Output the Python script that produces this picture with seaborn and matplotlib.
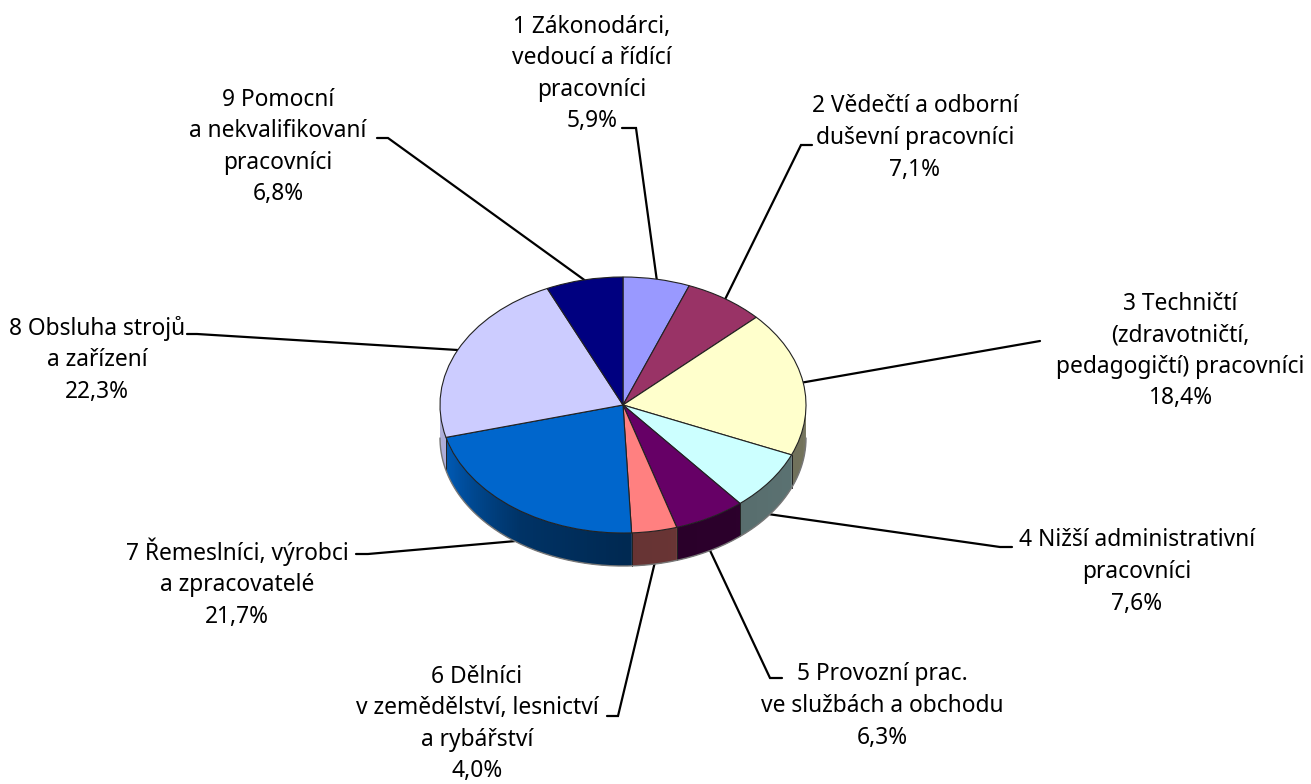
import numpy as np
import matplotlib
matplotlib.use("Agg")
import matplotlib.pyplot as plt
import seaborn as sns

labels = [
    "1 Zákonodárci,\nvedoucí a řídící\npracovníci\n5,9%",
    "2 Vědečtí a odborní\nduševní pracovníci\n7,1%",
    "3 Techničtí\n(zdravotničtí,\npedagogičtí) pracovníci\n18,4%",
    "4 Nižší administrativní\npracovníci\n7,6%",
    "5 Provozní prac.\nve službách a obchodu\n6,3%",
    "6 Dělníci\nv zemědělství, lesnictví\na rybářství\n4,0%",
    "7 Řemeslníci, výrobci\na zpracovatelé\n21,7%",
    "8 Obsluha strojů\na zařízení\n22,3%",
    "9 Pomocní\na nekvalifikovaní\npracovníci\n6,8%",
]
values = [5.9, 7.1, 18.4, 7.6, 6.3, 4.0, 21.7, 22.3, 6.8]
colors = ["#9999FF", "#993366", "#FFFFCC", "#CCFFFF", "#660066",
          "#FF8080", "#0066CC", "#CCCCFF", "#000080"]

# layout in pixels
W, H = 1311, 784
CX, CY, RX, RY, DEPTH = 623, 405, 183, 128, 33
label_pos = [(592, 74), (915, 138), (1180, 351), (1137, 572), (882, 706),
             (477, 724), (237, 583), (97, 360), (278, 147)]
leader_start = [(622, 128), (812, 145), (1040, 341), (1012, 547), (782, 678),
                (607, 716), (356, 554), (187, 334), (377, 138)]
leader_elbow = [(636, 128), (801, 145), (1040, 341), (1000, 547), (770, 678),
                (618, 716), (368, 554), (197, 334), (388, 138)]

sns.set_theme(style="white")
plt.rcParams["font.family"] = ["Noto Sans", "DejaVu Sans"]

fig = plt.figure(figsize=(W / 100, H / 100), dpi=100, facecolor="white")
ax = fig.add_axes([0, 0, 1, 1])
k = RY / RX
Y = lambda py: (H - py) / k


def shade(cw_deg):
    """Brightness of the rim, by position around the pie (clockwise from top)."""
    return np.interp(cw_deg, [90, 125, 180, 215, 250, 270],
                     [0.45, 0.44, 0.40, 0.50, 0.85, 0.85])


edges = np.concatenate([[0], np.cumsum(values)]) / np.sum(values) * 360
for i, col in enumerate(colors):
    a0, a1 = max(edges[i], 90), min(edges[i + 1], 270)
    if a1 <= a0:
        continue
    grid = np.arange(a0, a1 + 1.0, 1.0)
    grid[-1] = a1
    rgb = np.array(matplotlib.colors.to_rgb(col))
    for u, v in zip(grid[:-1], grid[1:]):
        ang = np.radians(np.linspace(max(u - 1.0, a0), v, 4))
        xs = CX + RX * np.sin(ang)
        ys = Y(CY) + RX * np.cos(ang)
        ax.fill(np.r_[xs, xs[::-1]], np.r_[ys, ys[::-1] - DEPTH / k],
                facecolor=rgb * shade((u + v) / 2), edgecolor="none", lw=0, zorder=2)
    # slice separators
    for a in (a0, a1):
        if (a == edges[i] or a == edges[i + 1]) and 90 < a < 270:
            xe = CX + RX * np.sin(np.radians(a))
            ye = Y(CY) + RX * np.cos(np.radians(a))
            ax.plot([xe, xe], [ye, ye - DEPTH / k], color="#222222", lw=0.6, zorder=3)
t = np.radians(np.linspace(90, 270, 200))
ax.plot(CX + RX * np.sin(t), Y(CY) + RX * np.cos(t) - DEPTH / k,
        color="#777777", lw=1.0, zorder=3)

wedges, _ = ax.pie(values, colors=colors, startangle=90, counterclock=False,
                   center=(CX, Y(CY)), radius=RX,
                   wedgeprops=dict(edgecolor="#222222", linewidth=0.8))
for w in wedges:
    w.set_zorder(4)

# leader lines, anchored on the slice mid angle
mids = np.radians((edges[:-1] + edges[1:]) / 2)
for m, s, e in zip(mids, leader_start, leader_elbow):
    ax_x = CX + RX * np.sin(m)
    ax_y = Y(CY) + RX * np.cos(m) - (DEPTH / k if np.cos(m) < 0 else 0)
    ax.plot([s[0], e[0], ax_x], [Y(s[1]), Y(e[1]), ax_y],
            color="black", lw=1.6, zorder=1, solid_joinstyle="miter")

for lab, (px, py) in zip(labels, label_pos):
    ax.text(px, Y(py), lab, ha="center", va="center", ma="center",
            fontsize=16.4, linespacing=1.42, color="black", zorder=5)

ax.set_aspect("auto")
ax.set_xlim(0, W)
ax.set_ylim(0, H / k)
ax.set_axis_off()
fig.savefig("out.png", dpi=100, facecolor="white")
